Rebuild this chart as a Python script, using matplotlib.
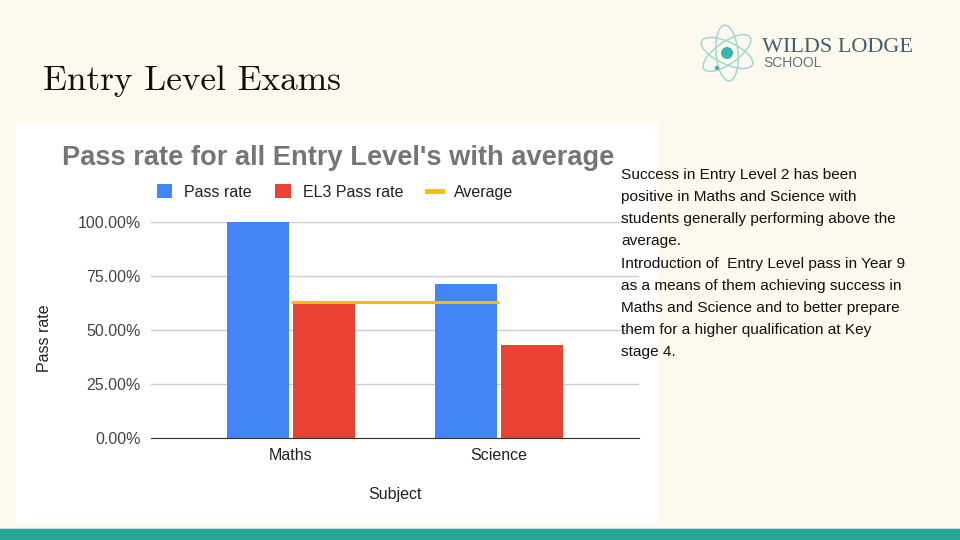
import matplotlib
matplotlib.use('Agg')
import matplotlib.pyplot as plt
from matplotlib.patches import Rectangle, Ellipse, Circle
from matplotlib.lines import Line2D
from matplotlib.ticker import FuncFormatter

# data
subjects = ['Maths', 'Science']
pass_rate = [100.0, 71.43]
el3_pass_rate = [62.5, 42.86]
average = [63.0, 63.0]
yticks = [0, 25, 50, 75, 100]

notes = ("Success in Entry Level 2 has been\n"
         "positive in Maths and Science with\n"
         "students generally performing above the\n"
         "average.\n"
         "Introduction of  Entry Level pass in Year 9\n"
         "as a means of them achieving success in\n"
         "Maths and Science and to better prepare\n"
         "them for a higher qualification at Key\n"
         "stage 4.")

BLUE = '#4285F4'
RED = '#EA4335'
YELLOW = '#FBBC04'
CREAM = '#FEF9EE'
TEAL = '#26A69A'
SANS = ['Liberation Sans', 'DejaVu Sans']

W, H = 960, 540
fig = plt.figure(figsize=(9.6, 5.4), dpi=100)
fig.patch.set_facecolor(CREAM)

# background layer in pixel coords (y down)
deco = fig.add_axes([0, 0, 1, 1], zorder=-1)
deco.set_xlim(0, W)
deco.set_ylim(H, 0)
deco.axis('off')
deco.add_patch(Rectangle((16, 123), 642, 401, facecolor='white', edgecolor='none'))
deco.add_patch(Rectangle((0, 529), W, 11, facecolor=TEAL, edgecolor='none'))
deco.add_patch(Rectangle((0, 528), W, 1, facecolor='#bfe3dc', edgecolor='none'))

# logo icon
for ang in (25, 85, 145):
    deco.add_patch(Ellipse((727, 53), 56, 22, angle=ang, fill=False,
                           edgecolor='#9fd8d6', lw=1.1))
deco.add_patch(Circle((727, 53), 6, facecolor='#3fb3b0', edgecolor='none'))
deco.add_patch(Circle((717, 68), 2.2, facecolor='#3fb3b0', edgecolor='none'))

fig.text(762 / W, 1 - 52 / H, 'WILDS LODGE', fontsize=16, color='#40606e',
         family='Liberation Serif', ha='left', va='baseline')
fig.text(763 / W, 1 - 67 / H, 'SCHOOL', fontsize=10, color='#5d7480',
         family=SANS, ha='left', va='baseline')

# slide title
fig.text(43 / W, 1 - 90 / H, 'Entry Level Exams', fontsize=25.4, color='#111111',
         family=['cmr10', 'DejaVu Serif'], ha='left', va='baseline')

# chart
ax = fig.add_axes([151 / W, 1 - 438 / H, 488 / W, 216 / H], zorder=0)
ax.set_facecolor('none')
x = list(range(len(subjects)))
bw = 0.30
ax.bar([i - 0.16 for i in x], pass_rate, width=bw, color=BLUE, zorder=2)
ax.bar([i + 0.16 for i in x], el3_pass_rate, width=bw, color=RED, zorder=2)
ax.plot(x, average, color=YELLOW, lw=2.2, zorder=3, solid_capstyle='butt')

ax.set_xlim(-0.673, 1.673)
ax.set_ylim(0, 100)
ax.set_yticks(yticks)
ax.yaxis.set_major_formatter(FuncFormatter(lambda v, p: f'{v:.2f}%'))
ax.set_xticks(x)
ax.set_xticklabels(subjects)
ax.grid(axis='y', color='#cccccc', lw=1, zorder=0)
for s in ('top', 'right', 'left'):
    ax.spines[s].set_visible(False)
ax.spines['bottom'].set_color('#333333')
ax.spines['bottom'].set_zorder(4)
ax.tick_params(length=0, labelsize=11.5, colors='#444444')
ax.tick_params(axis='y', pad=7.5)
ax.tick_params(axis='x', pad=7, colors='#222222')
for lab in ax.get_xticklabels() + ax.get_yticklabels():
    lab.set_family(SANS)

ax.set_ylabel('Pass rate', fontsize=11.5, color='#222222', family=SANS)
ax.yaxis.set_label_coords((52 - 151) / 488, (438 - 338) / 216)
ax.set_xlabel('Subject', fontsize=11.5, color='#222222', family=SANS)
ax.xaxis.set_label_coords((395 - 151) / 488, -(487 - 438) / 216)

fig.text(62 / W, 1 - 165 / H, "Pass rate for all Entry Level's with average",
         fontsize=19.6, fontweight='bold', color='#757575', family=SANS,
         ha='left', va='baseline')

handles = [Rectangle((0, 0), 1, 1, facecolor=BLUE),
           Rectangle((0, 0), 1, 1, facecolor=RED),
           Line2D([0], [0], color=YELLOW, lw=3.5)]
fig.legend(handles, ['Pass rate', 'EL3 Pass rate', 'Average'],
           loc='center', bbox_to_anchor=(335 / W, 1 - 192 / H), ncol=3,
           frameon=False, handlelength=0.95, handleheight=0.95,
           handletextpad=0.75, columnspacing=1.5,
           prop={'family': SANS, 'size': 11.5}, labelcolor='#222222')

# notes on the right
fig.text(621 / W, 1 - 168 / H, notes, fontsize=11.1, color='#111111',
         family=SANS, ha='left', va='top', linespacing=1.74)

fig.savefig('out.png', dpi=100, facecolor=fig.get_facecolor())
